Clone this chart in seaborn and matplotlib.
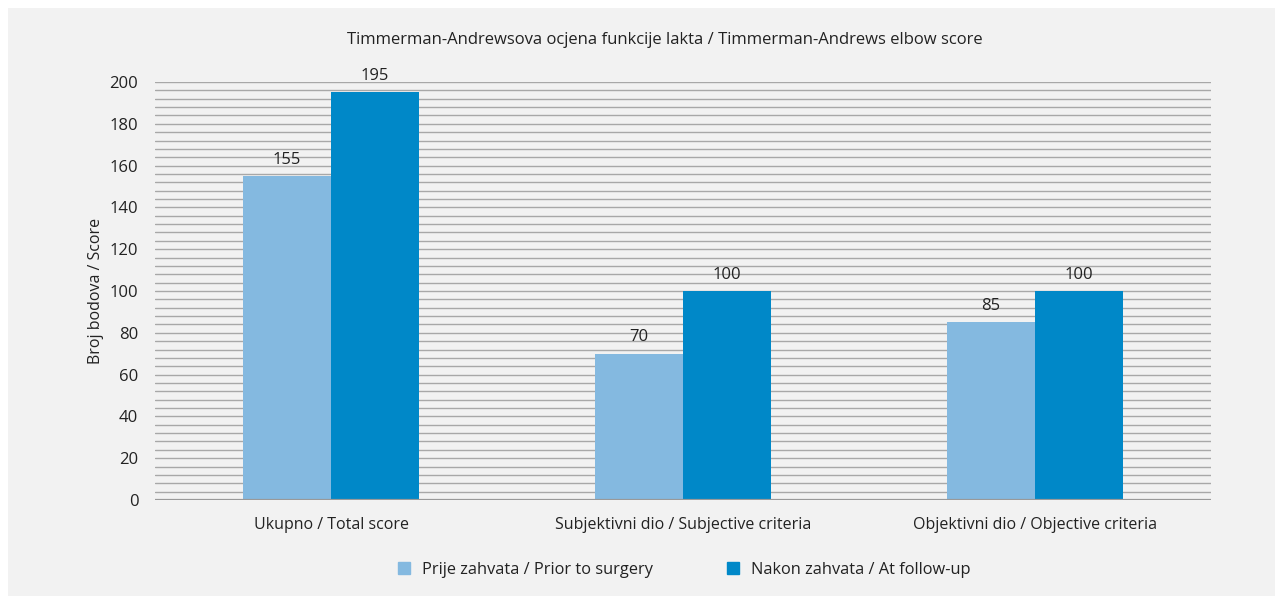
import matplotlib
matplotlib.use("Agg")
import matplotlib.pyplot as plt
import matplotlib.patches as mpatches
from matplotlib.lines import Line2D
import seaborn as sns
import pandas as pd
import numpy as np

categories = ["Ukupno / Total score", "Subjektivni dio / Subjective criteria", "Objektivni dio / Objective criteria"]
series_names = ["Prije zahvata / Prior to surgery", "Nakon zahvata / At follow-up"]
prior_values = [155, 70, 85]
followup_values = [195, 100, 100]
colors = ["#84b9e0", "#0088c8"]
title = "Timmerman-Andrewsova ocjena funkcije lakta / Timmerman-Andrews elbow score"
ylabel = "Broj bodova / Score"
yticks = list(range(0, 201, 20))

df = pd.DataFrame({
    "category": categories * 2,
    "series": [series_names[0]] * 3 + [series_names[1]] * 3,
    "value": prior_values + followup_values,
})

sns.set_theme(style="white")
plt.rcParams['font.family'] = ['Open Sans', 'DejaVu Sans']

fig = plt.figure(figsize=(12.75, 5.96), dpi=100)
fig.patch.set_facecolor("white")
bg = mpatches.Rectangle((8 / 1275, 0), 1 - 8 / 1275, 1 - 8 / 596, transform=fig.transFigure,
                        facecolor="#f2f2f2", edgecolor="none", zorder=-10)
fig.patches.append(bg)

ax = fig.add_axes([155 / 1275, 1 - 500 / 596, (1211 - 155) / 1275, (500 - 82) / 596])
ax.set_facecolor("none")

sns.barplot(data=df, x="category", y="value", hue="series", palette=colors,
            width=0.5, ax=ax, saturation=1, legend=False, zorder=3,
            linewidth=0, edgecolor="none")

ax.set_ylim(0, 200)
ax.set_yticks(yticks)
ax.set_yticklabels([str(t) for t in yticks], fontsize=12, color="#222222")
for g in range(4, 200, 4):
    ax.axhline(g, color="#a8a8a8", lw=1.0, zorder=1)
ax.axhline(200, color="#a8a8a8", lw=1.0, zorder=1)
ax.axhline(0, color="#999999", lw=1.6, zorder=4)

for s in ax.spines.values():
    s.set_visible(False)
ax.tick_params(axis="y", length=0, pad=12)
ax.tick_params(axis="x", length=0, labelsize=11.5, colors="#222222", pad=12)
ax.set_xlabel("")
ax.set_ylabel(ylabel, fontsize=11.5, color="#222222", labelpad=4)

for cont in ax.containers:
    ax.bar_label(cont, fmt="%d", padding=6, fontsize=12, color="#222222")

fig.text(665 / 1275, 1 - 40 / 596, title, ha="center", va="center", fontsize=12, color="#222222")

handles = [Line2D([0], [0], marker="s", color="none", markerfacecolor=c, markeredgecolor=c, markersize=8)
           for c in colors]
leg = fig.legend(handles, series_names, loc="center", bbox_to_anchor=(683 / 1275, 1 - 570 / 596),
                 ncol=2, frameon=False, fontsize=11.8, columnspacing=4.4, handletextpad=0.6,
                 handlelength=1.0)
for t in leg.get_texts():
    t.set_color("#222222")

fig.savefig("out.png", dpi=100)
